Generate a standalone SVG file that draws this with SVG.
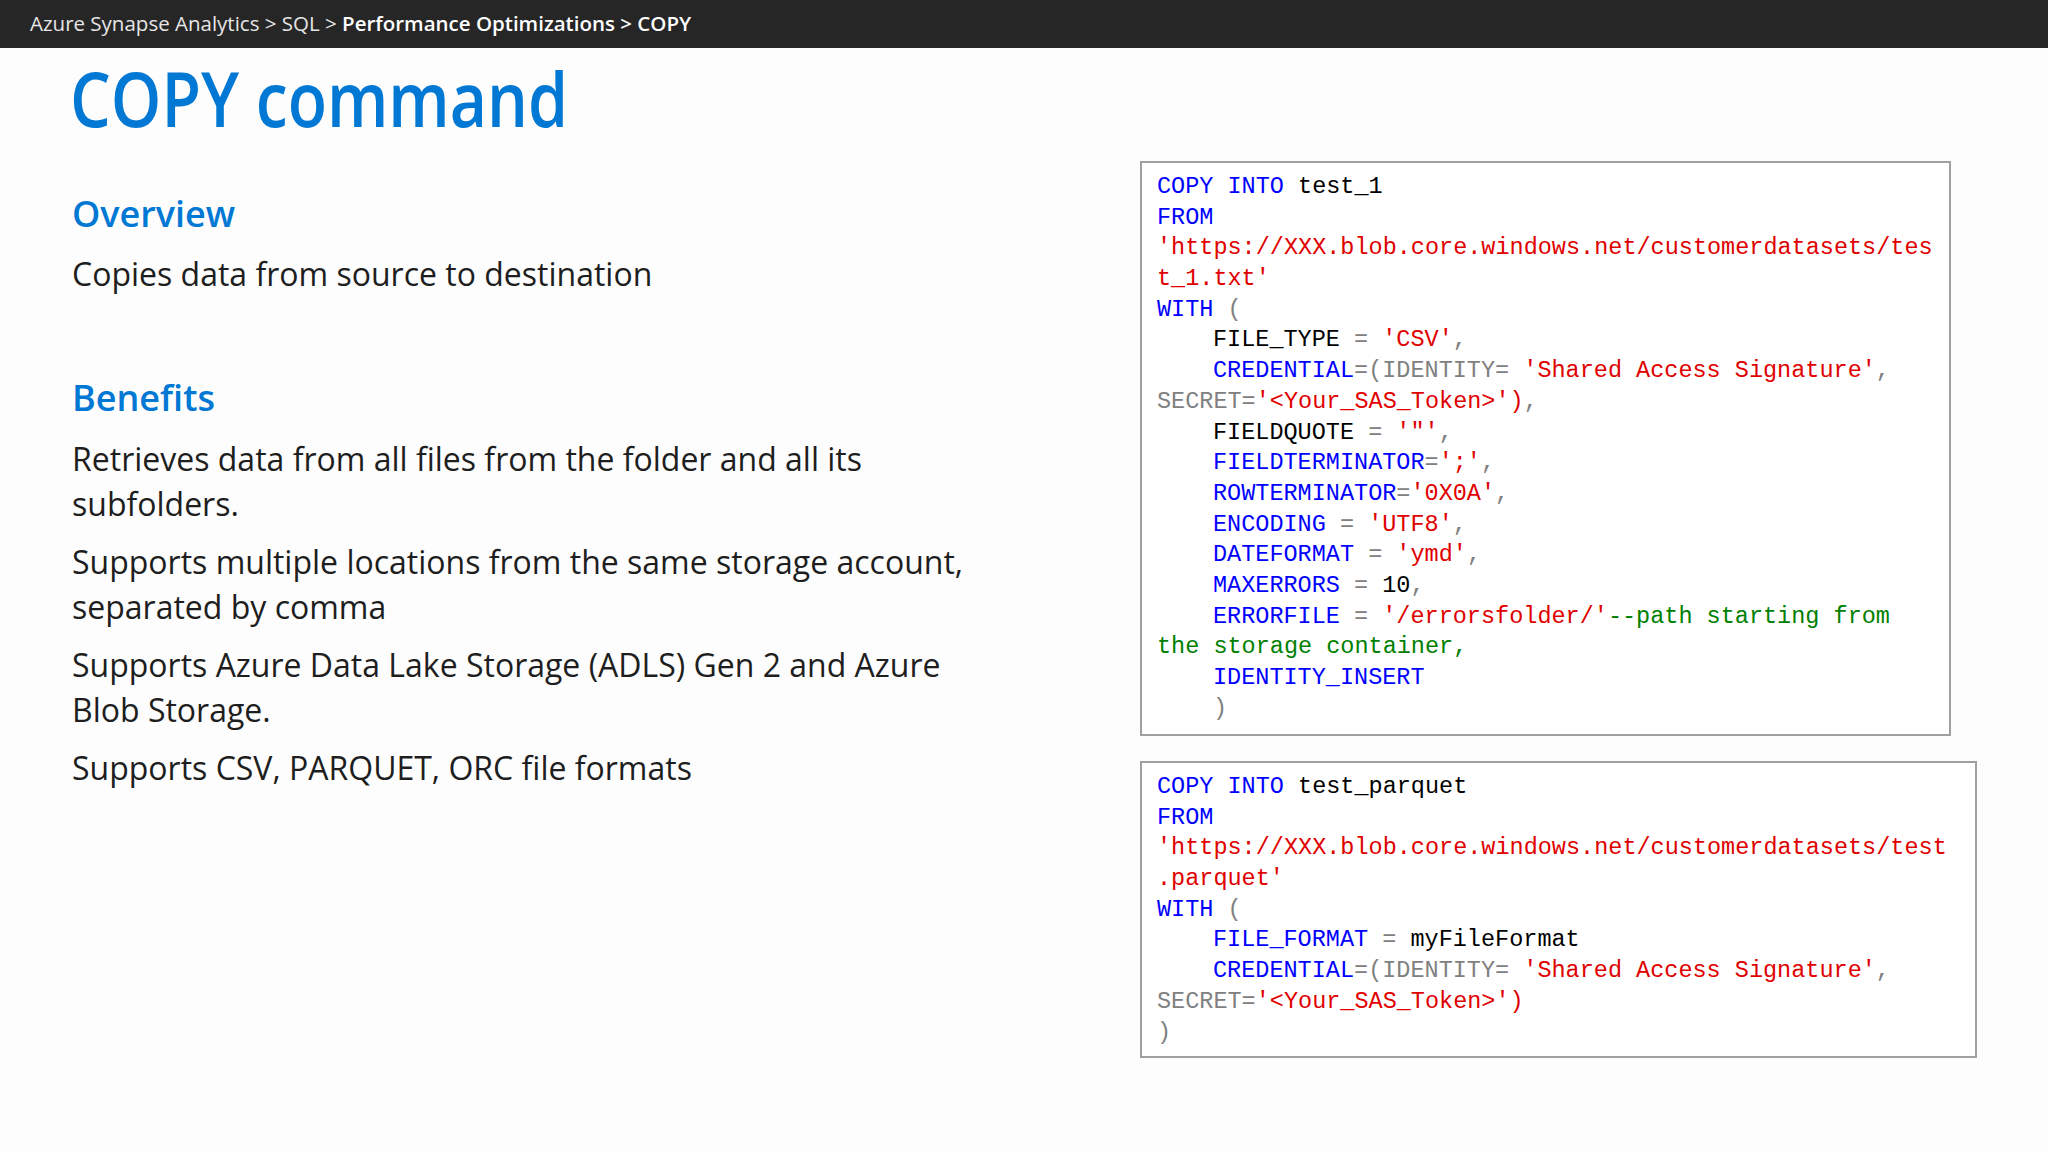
<svg xmlns="http://www.w3.org/2000/svg" width="2048" height="1152" viewBox="0 0 2048 1152">
<style>
.crumb{font-family:"Open Sans","Noto Sans",sans-serif;font-size:20.5px;fill:#e6e6e6}
.crumbb{font-weight:600;fill:#fff}
.h{font-family:"Open Sans","Noto Sans",sans-serif;fill:#0078D4;font-weight:600}
.b{font-family:"Open Sans","Noto Sans",sans-serif;font-size:32px;fill:#1e1e1e}
.code{font-family:"Liberation Mono","DejaVu Sans Mono",monospace;font-size:23.5px;fill:#000}
.k{fill:#0000ff}.s{fill:#e00000}.g{fill:#808080}.c{fill:#008000}
.box{fill:#fff;stroke:#a0a0a0;stroke-width:2}
</style>
<rect width="2048" height="1152" fill="#fdfdfd"/>
<rect width="2048" height="48" fill="#262626"/>
<text class="crumb" x="30" y="31">Azure Synapse Analytics &gt; SQL &gt; <tspan class="crumbb">Performance Optimizations &gt; COPY</tspan></text>
<text class="h" x="70" y="127" font-size="76" textLength="498" lengthAdjust="spacingAndGlyphs">COPY command</text>
<text class="h" x="72" y="227" font-size="36">Overview</text>
<text class="b" x="72" y="286">Copies data from source to destination</text>
<text class="h" x="72" y="411" font-size="36">Benefits</text>
<g class="b">
<text x="72" y="471">Retrieves data from all files from the folder and all its</text>
<text x="72" y="516">subfolders.</text>
<text x="72" y="574">Supports multiple locations from the same storage account,</text>
<text x="72" y="619">separated by comma</text>
<text x="72" y="677">Supports Azure Data Lake Storage (ADLS) Gen 2 and Azure</text>
<text x="72" y="722">Blob Storage.</text>
<text x="72" y="780">Supports CSV, PARQUET, ORC file formats</text>
</g>
<g id="code1">
<rect class="box" x="1141" y="162" width="809" height="573"/>
<g class="code">
<text x="1157" y="193"><tspan class="k">COPY INTO</tspan> test_1</text>
<text x="1157" y="224" class="k">FROM</text>
<text x="1157" y="254" class="s">'https://XXX.blob.core.windows.net/customerdatasets/tes</text>
<text x="1157" y="285" class="s">t_1.txt'</text>
<text x="1157" y="316"><tspan class="k">WITH</tspan> <tspan class="g">(</tspan></text>
<text x="1213" y="346">FILE_TYPE <tspan class="g">=</tspan> <tspan class="s">'CSV'</tspan><tspan class="g">,</tspan></text>
<text x="1213" y="377"><tspan class="k">CREDENTIAL</tspan><tspan class="g">=(IDENTITY=</tspan> <tspan class="s">'Shared Access Signature'</tspan><tspan class="g">,</tspan></text>
<text x="1157" y="408"><tspan class="g">SECRET=</tspan><tspan class="s">'&lt;Your_SAS_Token&gt;')</tspan><tspan class="g">,</tspan></text>
<text x="1213" y="439">FIELDQUOTE <tspan class="g">=</tspan> <tspan class="s">'"'</tspan><tspan class="g">,</tspan></text>
<text x="1213" y="469"><tspan class="k">FIELDTERMINATOR</tspan><tspan class="g">=</tspan><tspan class="s">';'</tspan><tspan class="g">,</tspan></text>
<text x="1213" y="500"><tspan class="k">ROWTERMINATOR</tspan><tspan class="g">=</tspan><tspan class="s">'0X0A'</tspan><tspan class="g">,</tspan></text>
<text x="1213" y="531"><tspan class="k">ENCODING</tspan> <tspan class="g">=</tspan> <tspan class="s">'UTF8'</tspan><tspan class="g">,</tspan></text>
<text x="1213" y="561"><tspan class="k">DATEFORMAT</tspan> <tspan class="g">=</tspan> <tspan class="s">'ymd'</tspan><tspan class="g">,</tspan></text>
<text x="1213" y="592"><tspan class="k">MAXERRORS</tspan> <tspan class="g">=</tspan> 10<tspan class="g">,</tspan></text>
<text x="1213" y="623"><tspan class="k">ERRORFILE</tspan> <tspan class="g">=</tspan> <tspan class="s">'/errorsfolder/'</tspan><tspan class="c">--path starting from</tspan></text>
<text x="1157" y="653" class="c">the storage container,</text>
<text x="1213" y="684" class="k">IDENTITY_INSERT</text>
<text x="1213" y="715" class="g">)</text>
</g>
</g>
<g id="code2">
<rect class="box" x="1141" y="762" width="835" height="295"/>
<g class="code">
<text x="1157" y="793"><tspan class="k">COPY INTO</tspan> test_parquet</text>
<text x="1157" y="824" class="k">FROM</text>
<text x="1157" y="854" class="s">'https://XXX.blob.core.windows.net/customerdatasets/test</text>
<text x="1157" y="885" class="s">.parquet'</text>
<text x="1157" y="916"><tspan class="k">WITH</tspan> <tspan class="g">(</tspan></text>
<text x="1213" y="946"><tspan class="k">FILE_FORMAT</tspan> <tspan class="g">=</tspan> myFileFormat</text>
<text x="1213" y="977"><tspan class="k">CREDENTIAL</tspan><tspan class="g">=(IDENTITY=</tspan> <tspan class="s">'Shared Access Signature'</tspan><tspan class="g">,</tspan></text>
<text x="1157" y="1008"><tspan class="g">SECRET=</tspan><tspan class="s">'&lt;Your_SAS_Token&gt;')</tspan></text>
<text x="1157" y="1039" class="g">)</text>
</g>
</g>
</svg>
